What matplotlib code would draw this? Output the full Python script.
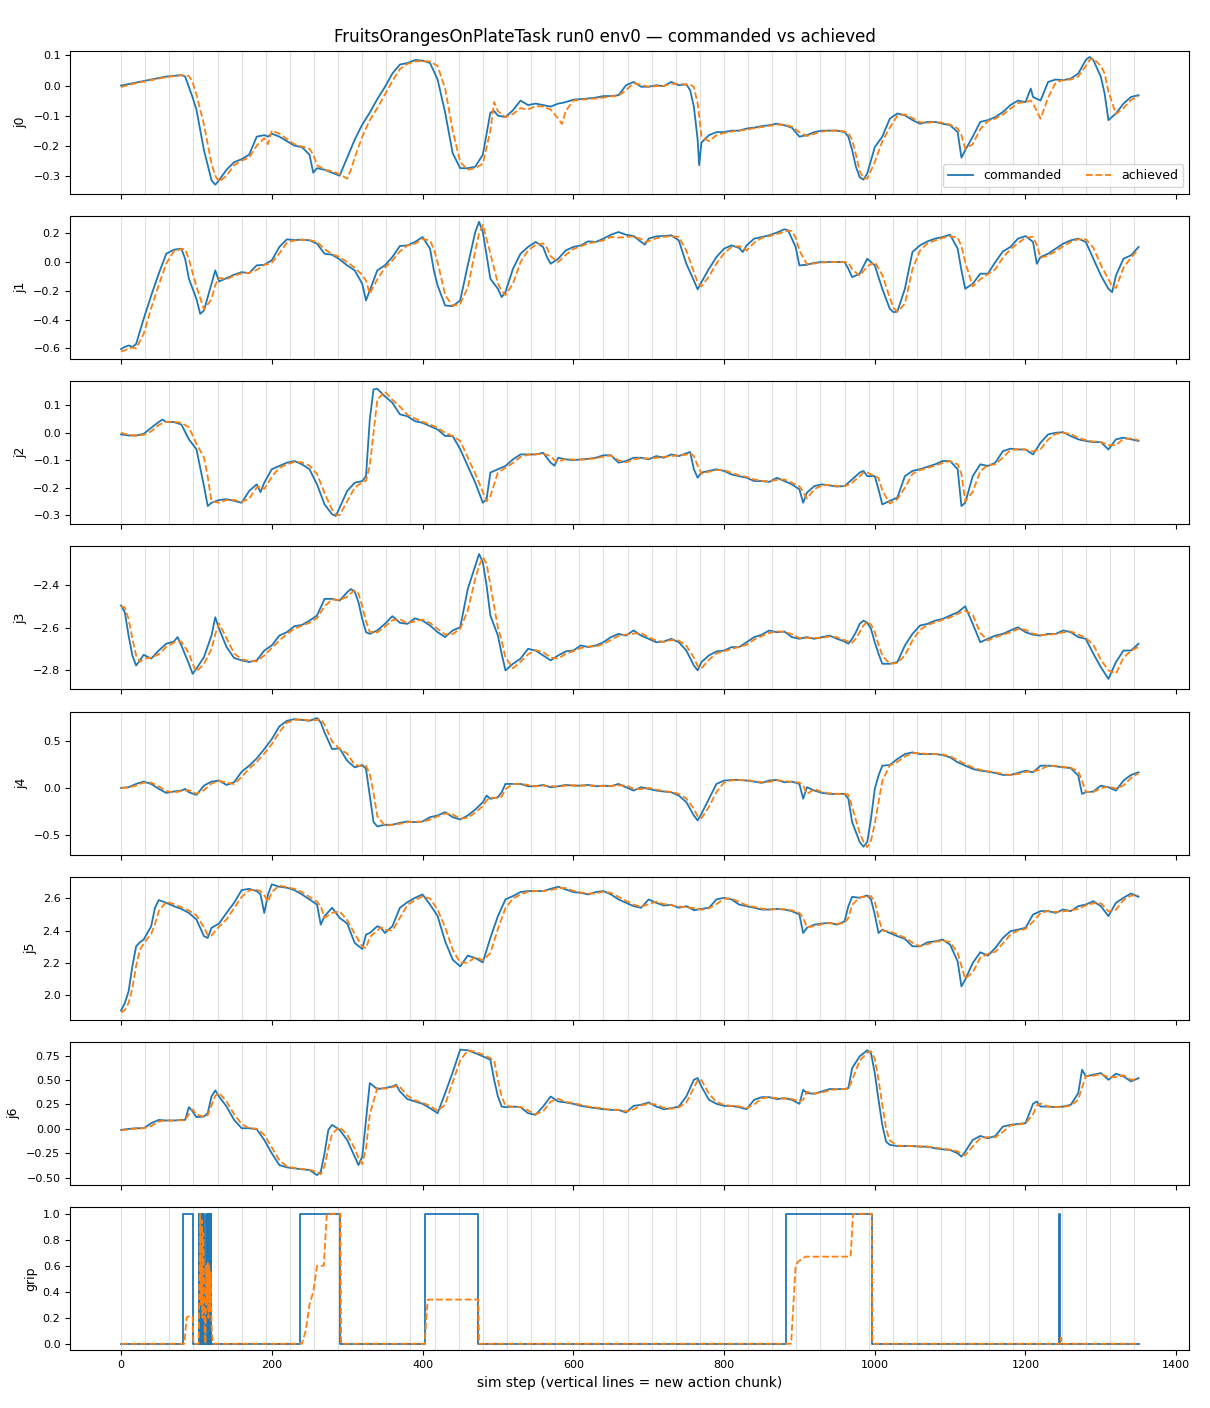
import matplotlib
matplotlib.use("Agg")
import matplotlib.pyplot as plt

TITLE = "FruitsOrangesOnPlateTask run0 env0 \u2014 commanded vs achieved"
XLABEL = "sim step (vertical lines = new action chunk)"
CHUNK = 32
N_STEPS = 1350

# ---- j0 -------------------------------------------------------------
J0_T = [0, 10, 20, 30, 40, 50, 60, 70, 80, 85, 90, 95, 100, 110, 120, 125, 130, 140, 150, 160,
        170, 180, 190, 195, 200, 210, 220, 230, 240, 250, 255, 260, 270, 280, 290, 300, 305, 310,
        320, 330, 340, 350, 360, 370, 380, 390, 400, 410, 420, 430, 440, 450, 460, 470, 480, 490,
        495, 500, 510, 520, 530, 540, 550, 560, 570, 580, 585, 590, 600, 610, 620, 630, 640, 650,
        660, 670, 680, 690, 700, 710, 720, 730, 740, 750, 755, 760, 765, 767, 770, 780, 790, 800,
        810, 820, 830, 840, 850, 860, 870, 880, 890, 900, 910, 920, 930, 940, 950, 960, 965, 970,
        975, 980, 985, 990, 1000, 1010, 1020, 1030, 1040, 1050, 1060, 1070, 1080, 1090, 1100, 1110,
        1115, 1120, 1130, 1140, 1150, 1160, 1170, 1180, 1190, 1200, 1207, 1210, 1220, 1230, 1240,
        1250, 1260, 1270, 1280, 1285, 1290, 1300, 1305, 1310, 1320, 1330, 1340, 1350]
J0_CMD = [0.000, 0.005, 0.010, 0.015, 0.020, 0.025, 0.030, 0.032, 0.035, 0.030, -0.005, -0.040,
          -0.080, -0.215, -0.315, -0.330, -0.315, -0.280, -0.255, -0.245, -0.230, -0.170, -0.165,
          -0.170, -0.160, -0.170, -0.185, -0.200, -0.205, -0.230, -0.290, -0.275, -0.280, -0.290,
          -0.300, -0.240, -0.210, -0.180, -0.130, -0.090, -0.045, -0.005, 0.040, 0.070, 0.075,
          0.085, 0.083, 0.075, 0.020, -0.090, -0.225, -0.275, -0.275, -0.270, -0.230, -0.090,
          -0.085, -0.100, -0.105, -0.082, -0.050, -0.065, -0.060, -0.065, -0.070, -0.060, -0.058,
          -0.055, -0.047, -0.045, -0.043, -0.040, -0.035, -0.035, -0.032, 0.001, 0.012, -0.004,
          -0.004, 0.001, -0.002, 0.012, 0.001, 0.004, -0.015, -0.070, -0.180, -0.265, -0.190,
          -0.165, -0.155, -0.155, -0.150, -0.150, -0.143, -0.140, -0.135, -0.132, -0.127, -0.132,
          -0.140, -0.170, -0.165, -0.155, -0.150, -0.150, -0.150, -0.155, -0.170, -0.215, -0.270,
          -0.305, -0.313, -0.293, -0.205, -0.170, -0.110, -0.093, -0.099, -0.115, -0.127, -0.121,
          -0.121, -0.127, -0.132, -0.155, -0.240, -0.215, -0.170, -0.121, -0.115, -0.105, -0.088,
          -0.065, -0.050, -0.055, -0.010, -0.038, -0.050, 0.012, 0.020, 0.018, 0.023, 0.040, 0.085,
          0.095, 0.085, 0.029, -0.027, -0.115, -0.093, -0.060, -0.038, -0.032]
J0_ACH = [-0.005, 0.002, 0.008, 0.013, 0.018, 0.023, 0.028, 0.031, 0.034, 0.034, 0.032, 0.010,
          -0.030, -0.130, -0.260, -0.300, -0.320, -0.300, -0.265, -0.250, -0.240, -0.200, -0.175,
          -0.195, -0.150, -0.160, -0.178, -0.195, -0.203, -0.210, -0.230, -0.265, -0.280, -0.285,
          -0.295, -0.310, -0.280, -0.240, -0.170, -0.115, -0.075, -0.030, 0.015, 0.055, 0.072,
          0.080, 0.082, 0.080, 0.065, -0.010, -0.150, -0.255, -0.280, -0.275, -0.260, -0.150,
          -0.055, -0.085, -0.105, -0.095, -0.075, -0.080, -0.068, -0.070, -0.080, -0.110, -0.128,
          -0.085, -0.050, -0.047, -0.045, -0.043, -0.040, -0.036, -0.034, -0.015, 0.008, 0.002,
          -0.004, -0.002, -0.001, 0.006, 0.006, 0.003, 0.003, -0.005, -0.060, -0.100, -0.170,
          -0.185, -0.165, -0.158, -0.153, -0.150, -0.147, -0.142, -0.138, -0.134, -0.130, -0.130,
          -0.137, -0.155, -0.168, -0.160, -0.153, -0.150, -0.150, -0.153, -0.158, -0.180, -0.230,
          -0.285, -0.308, -0.310, -0.255, -0.185, -0.140, -0.100, -0.096, -0.108, -0.122, -0.124,
          -0.121, -0.124, -0.130, -0.143, -0.165, -0.210, -0.195, -0.145, -0.118, -0.110, -0.097,
          -0.077, -0.058, -0.055, -0.050, -0.060, -0.110, -0.040, 0.010, 0.018, 0.020, 0.030, 0.065,
          0.085, 0.090, 0.065, 0.040, -0.020, -0.095, -0.075, -0.048, -0.035]

# ---- j1 -------------------------------------------------------------
J1_T = [0, 5, 10, 15, 20, 30, 40, 50, 60, 70, 80, 85, 90, 100, 105, 110, 120, 125, 130, 140,
        150, 160, 170, 180, 190, 200, 210, 220, 230, 240, 250, 260, 270, 280, 290, 300, 310, 320,
        325, 330, 340, 350, 360, 370, 380, 390, 400, 410, 415, 420, 430, 440, 450, 460, 470, 475,
        480, 490, 500, 505, 510, 520, 530, 540, 550, 560, 565, 570, 580, 590, 600, 610, 620, 630,
        640, 650, 660, 670, 680, 690, 695, 700, 710, 720, 730, 740, 750, 760, 765, 770, 780, 790,
        800, 810, 820, 825, 830, 840, 850, 860, 870, 880, 885, 890, 895, 900, 910, 920, 930, 940,
        950, 960, 965, 970, 980, 990, 1000, 1010, 1020, 1025, 1030, 1040, 1050, 1060, 1070, 1080,
        1090, 1100, 1110, 1115, 1120, 1130, 1140, 1150, 1160, 1170, 1180, 1190, 1200, 1210, 1215,
        1220, 1230, 1240, 1250, 1260, 1270, 1280, 1290, 1300, 1310, 1315, 1320, 1330, 1340, 1350]
J1_CMD = [-0.605, -0.590, -0.580, -0.590, -0.570, -0.395, -0.233, -0.081, 0.058, 0.086, 0.093,
          0.023, -0.116, -0.256, -0.360, -0.337, -0.151, -0.058, -0.135, -0.112, -0.088, -0.070,
          -0.077, -0.023, -0.019, 0.012, 0.105, 0.158, 0.153, 0.156, 0.151, 0.128, 0.058, 0.051,
          0.019, -0.023, -0.058, -0.151, -0.267, -0.198, -0.058, -0.023, 0.035, 0.112, 0.116,
          0.140, 0.174, 0.093, -0.058, -0.163, -0.302, -0.307, -0.267, -0.023, 0.209, 0.280, 0.209,
          -0.116, -0.186, -0.244, -0.209, -0.047, 0.058, 0.105, 0.140, 0.105, 0.035, -0.012, 0.023,
          0.081, 0.105, 0.116, 0.144, 0.140, 0.163, 0.190, 0.209, 0.190, 0.181, 0.140, 0.121,
          0.163, 0.179, 0.181, 0.186, 0.151, -0.012, -0.128, -0.190, -0.140, -0.047, 0.035, 0.093,
          0.116, 0.098, 0.070, 0.116, 0.163, 0.174, 0.186, 0.205, 0.228, 0.221, 0.163, 0.105,
          -0.023, -0.019, -0.005, 0.000, 0.000, 0.000, 0.000, -0.047, -0.105, -0.081, 0.023,
          -0.023, -0.186, -0.326, -0.349, -0.344, -0.186, 0.070, 0.116, 0.144, 0.163, 0.174, 0.190,
          0.093, -0.058, -0.186, -0.151, -0.081, -0.081, 0.000, 0.074, 0.105, 0.163, 0.181, 0.140,
          -0.012, 0.035, 0.058, 0.093, 0.128, 0.151, 0.163, 0.140, 0.023, -0.093, -0.186, -0.209,
          -0.093, 0.023, 0.047, 0.105]
J1_ACH = [-0.620, -0.615, -0.600, -0.595, -0.600, -0.500, -0.320, -0.160, -0.010, 0.075, 0.090,
          0.090, 0.020, -0.170, -0.250, -0.330, -0.260, -0.160, -0.110, -0.120, -0.095, -0.078,
          -0.075, -0.055, -0.020, -0.005, 0.060, 0.135, 0.150, 0.155, 0.153, 0.140, 0.090, 0.055,
          0.035, 0.000, -0.040, -0.090, -0.130, -0.220, -0.120, -0.040, 0.010, 0.075, 0.115, 0.128,
          0.160, 0.150, 0.090, 0.000, -0.230, -0.305, -0.290, -0.180, 0.080, 0.200, 0.260, 0.060,
          -0.150, -0.200, -0.230, -0.150, 0.000, 0.080, 0.120, 0.130, 0.100, 0.040, 0.000, 0.050,
          0.090, 0.110, 0.130, 0.140, 0.150, 0.175, 0.170, 0.175, 0.178, 0.160, 0.140, 0.145,
          0.165, 0.175, 0.180, 0.175, 0.080, -0.070, -0.140, -0.170, -0.100, -0.010, 0.060, 0.105,
          0.110, 0.100, 0.080, 0.135, 0.168, 0.180, 0.195, 0.210, 0.220, 0.215, 0.170, 0.080,
          -0.015, -0.010, -0.003, 0.000, 0.000, 0.000, -0.005, -0.050, -0.095, -0.030, 0.000,
          -0.090, -0.250, -0.320, -0.345, -0.290, -0.050, 0.080, 0.130, 0.150, 0.168, 0.180, 0.170,
          0.110, 0.000, -0.170, -0.120, -0.085, -0.050, 0.030, 0.090, 0.130, 0.170, 0.175, 0.120,
          0.030, 0.045, 0.075, 0.110, 0.140, 0.158, 0.158, 0.100, -0.020, -0.120, -0.170, -0.180,
          -0.040, 0.030, 0.090]

# ---- j2 -------------------------------------------------------------
J2_T = [0, 10, 20, 30, 40, 50, 55, 60, 70, 80, 90, 100, 110, 115, 120, 130, 140, 150, 160, 170,
        180, 185, 190, 200, 210, 220, 230, 240, 250, 260, 270, 280, 285, 290, 300, 310, 320, 325,
        330, 335, 340, 350, 360, 370, 380, 390, 400, 410, 420, 430, 440, 450, 460, 470, 480, 485,
        490, 500, 510, 520, 530, 540, 550, 560, 570, 575, 580, 590, 600, 610, 620, 630, 640, 650,
        660, 670, 680, 690, 700, 710, 720, 730, 740, 750, 755, 760, 765, 770, 780, 790, 800, 810,
        820, 830, 840, 850, 860, 870, 880, 890, 900, 905, 910, 920, 930, 940, 950, 960, 970, 980,
        985, 990, 1000, 1005, 1010, 1020, 1030, 1040, 1050, 1060, 1070, 1080, 1090, 1100, 1110,
        1115, 1120, 1130, 1140, 1150, 1160, 1170, 1180, 1190, 1200, 1210, 1220, 1230, 1240, 1250,
        1260, 1270, 1280, 1290, 1300, 1310, 1320, 1330, 1340, 1350]
J2_CMD = [-0.006, -0.010, -0.010, -0.004, 0.018, 0.039, 0.048, 0.039, 0.039, 0.030, -0.024,
          -0.060, -0.194, -0.267, -0.255, -0.245, -0.242, -0.248, -0.255, -0.212, -0.188, -0.216,
          -0.182, -0.133, -0.121, -0.109, -0.103, -0.115, -0.133, -0.188, -0.261, -0.297, -0.303,
          -0.273, -0.212, -0.182, -0.176, -0.158, 0.048, 0.158, 0.160, 0.133, 0.109, 0.067, 0.060,
          0.042, 0.036, 0.024, 0.012, -0.012, -0.012, -0.060, -0.121, -0.182, -0.255, -0.242,
          -0.145, -0.133, -0.121, -0.097, -0.079, -0.079, -0.079, -0.073, -0.109, -0.120, -0.091,
          -0.097, -0.100, -0.097, -0.095, -0.091, -0.082, -0.082, -0.109, -0.103, -0.091, -0.091,
          -0.097, -0.085, -0.091, -0.079, -0.085, -0.075, -0.070, -0.133, -0.164, -0.145, -0.139,
          -0.133, -0.139, -0.152, -0.158, -0.164, -0.176, -0.176, -0.179, -0.164, -0.176, -0.188,
          -0.206, -0.255, -0.218, -0.194, -0.188, -0.192, -0.196, -0.194, -0.170, -0.145, -0.139,
          -0.158, -0.158, -0.206, -0.261, -0.248, -0.236, -0.158, -0.139, -0.133, -0.124, -0.115,
          -0.103, -0.103, -0.133, -0.267, -0.255, -0.158, -0.115, -0.121, -0.109, -0.067, -0.058,
          -0.061, -0.061, -0.079, -0.036, -0.006, 0.000, 0.002, -0.012, -0.024, -0.030, -0.034,
          -0.034, -0.061, -0.024, -0.018, -0.024, -0.030]
J2_ACH = [0.000, -0.008, -0.010, -0.008, 0.005, 0.028, 0.035, 0.040, 0.040, 0.036, 0.020,
          -0.040, -0.090, -0.160, -0.250, -0.255, -0.245, -0.245, -0.252, -0.240, -0.200, -0.195,
          -0.205, -0.160, -0.128, -0.115, -0.106, -0.108, -0.120, -0.150, -0.220, -0.280, -0.298,
          -0.300, -0.250, -0.200, -0.180, -0.175, -0.120, 0.000, 0.120, 0.150, 0.120, 0.095, 0.065,
          0.052, 0.040, 0.030, 0.018, 0.000, -0.012, -0.030, -0.090, -0.150, -0.215, -0.250,
          -0.230, -0.145, -0.128, -0.110, -0.088, -0.080, -0.079, -0.076, -0.085, -0.100, -0.105,
          -0.095, -0.098, -0.098, -0.096, -0.093, -0.087, -0.083, -0.100, -0.108, -0.097, -0.092,
          -0.094, -0.091, -0.088, -0.085, -0.082, -0.080, -0.074, -0.085, -0.120, -0.150, -0.142,
          -0.136, -0.136, -0.146, -0.155, -0.161, -0.170, -0.176, -0.177, -0.172, -0.170, -0.182,
          -0.195, -0.215, -0.240, -0.205, -0.192, -0.190, -0.194, -0.195, -0.182, -0.158, -0.145,
          -0.145, -0.158, -0.165, -0.210, -0.258, -0.242, -0.200, -0.150, -0.136, -0.128, -0.120,
          -0.110, -0.103, -0.115, -0.150, -0.250, -0.215, -0.140, -0.118, -0.115, -0.090, -0.063,
          -0.060, -0.061, -0.068, -0.060, -0.025, -0.004, 0.000, -0.005, -0.018, -0.027, -0.032,
          -0.034, -0.045, -0.045, -0.022, -0.021, -0.027]

# ---- j3 -------------------------------------------------------------
J3_T = [0, 5, 10, 15, 20, 25, 30, 40, 50, 60, 70, 75, 80, 90, 95, 100, 110, 120, 125, 130, 140,
        150, 160, 170, 180, 190, 200, 210, 220, 230, 240, 250, 260, 270, 280, 290, 300, 305, 310,
        315, 320, 325, 330, 340, 350, 360, 370, 380, 390, 400, 410, 420, 430, 440, 450, 460, 470,
        475, 480, 485, 490, 500, 505, 510, 520, 530, 540, 550, 560, 570, 580, 590, 600, 610, 620,
        630, 640, 650, 660, 670, 680, 690, 700, 710, 720, 730, 740, 750, 760, 765, 770, 780, 790,
        800, 810, 820, 830, 840, 850, 860, 870, 880, 890, 900, 910, 920, 930, 940, 950, 960, 965,
        970, 975, 980, 985, 990, 995, 1000, 1005, 1010, 1020, 1030, 1040, 1050, 1060, 1070, 1080,
        1090, 1100, 1110, 1120, 1130, 1140, 1150, 1160, 1170, 1180, 1190, 1200, 1210, 1220, 1230,
        1240, 1250, 1260, 1270, 1280, 1290, 1300, 1310, 1320, 1330, 1340, 1350]
J3_CMD = [-2.496, -2.528, -2.637, -2.730, -2.777, -2.753, -2.727, -2.745, -2.707, -2.675, -2.665,
          -2.644, -2.683, -2.769, -2.816, -2.792, -2.738, -2.637, -2.551, -2.605, -2.691, -2.742,
          -2.753, -2.761, -2.753, -2.707, -2.683, -2.637, -2.621, -2.593, -2.587, -2.567, -2.543,
          -2.465, -2.465, -2.473, -2.434, -2.419, -2.431, -2.481, -2.559, -2.621, -2.629, -2.613,
          -2.582, -2.546, -2.577, -2.582, -2.556, -2.567, -2.590, -2.621, -2.644, -2.613, -2.598,
          -2.419, -2.310, -2.255, -2.294, -2.403, -2.543, -2.637, -2.722, -2.800, -2.769, -2.745,
          -2.699, -2.707, -2.730, -2.753, -2.730, -2.711, -2.707, -2.683, -2.691, -2.683, -2.668,
          -2.644, -2.629, -2.637, -2.613, -2.637, -2.652, -2.668, -2.665, -2.652, -2.668, -2.707,
          -2.777, -2.800, -2.761, -2.730, -2.711, -2.707, -2.691, -2.691, -2.668, -2.644, -2.633,
          -2.613, -2.621, -2.618, -2.644, -2.652, -2.644, -2.652, -2.644, -2.637, -2.652, -2.665,
          -2.675, -2.652, -2.621, -2.582, -2.567, -2.577, -2.605, -2.668, -2.722, -2.769, -2.769,
          -2.761, -2.683, -2.629, -2.590, -2.582, -2.567, -2.559, -2.543, -2.528, -2.500, -2.582,
          -2.668, -2.652, -2.637, -2.629, -2.613, -2.598, -2.621, -2.633, -2.637, -2.629, -2.629,
          -2.613, -2.621, -2.644, -2.652, -2.722, -2.785, -2.840, -2.761, -2.707, -2.707, -2.675]
J3_ACH = [-2.500, -2.505, -2.560, -2.650, -2.730, -2.760, -2.745, -2.740, -2.725, -2.690, -2.670,
          -2.665, -2.665, -2.720, -2.770, -2.805, -2.770, -2.700, -2.630, -2.580, -2.650, -2.720,
          -2.748, -2.757, -2.757, -2.730, -2.695, -2.660, -2.630, -2.605, -2.590, -2.577, -2.555,
          -2.500, -2.468, -2.470, -2.455, -2.438, -2.425, -2.440, -2.500, -2.570, -2.620, -2.622,
          -2.595, -2.565, -2.560, -2.580, -2.570, -2.562, -2.578, -2.605, -2.632, -2.630, -2.605,
          -2.520, -2.370, -2.310, -2.270, -2.300, -2.400, -2.600, -2.660, -2.740, -2.790, -2.760,
          -2.725, -2.705, -2.715, -2.740, -2.745, -2.722, -2.710, -2.695, -2.688, -2.688, -2.676,
          -2.658, -2.638, -2.632, -2.628, -2.625, -2.645, -2.660, -2.667, -2.658, -2.660, -2.685,
          -2.740, -2.780, -2.790, -2.750, -2.720, -2.710, -2.700, -2.690, -2.680, -2.656, -2.640,
          -2.625, -2.617, -2.620, -2.630, -2.648, -2.648, -2.648, -2.648, -2.641, -2.645, -2.658,
          -2.665, -2.670, -2.650, -2.620, -2.590, -2.572, -2.585, -2.620, -2.680, -2.730, -2.770,
          -2.765, -2.730, -2.660, -2.610, -2.588, -2.575, -2.563, -2.552, -2.535, -2.520, -2.540,
          -2.625, -2.660, -2.645, -2.633, -2.622, -2.606, -2.610, -2.628, -2.635, -2.633, -2.629,
          -2.622, -2.617, -2.632, -2.648, -2.680, -2.750, -2.800, -2.815, -2.740, -2.708, -2.690]

# ---- j4 -------------------------------------------------------------
J4_T = [0, 10, 20, 30, 40, 50, 60, 70, 80, 85, 90, 100, 110, 120, 130, 140, 150, 160, 170, 180,
        190, 200, 210, 220, 230, 240, 250, 260, 265, 270, 280, 290, 300, 310, 320, 325, 330, 335,
        340, 350, 360, 370, 380, 390, 400, 410, 420, 430, 440, 450, 460, 470, 480, 485, 490, 500,
        505, 510, 520, 530, 540, 550, 560, 570, 580, 590, 600, 610, 620, 630, 640, 650, 660, 670,
        680, 690, 700, 710, 720, 730, 740, 750, 760, 765, 770, 780, 790, 800, 810, 820, 830, 840,
        850, 860, 870, 880, 890, 900, 905, 910, 920, 930, 940, 950, 960, 965, 970, 980, 985, 990,
        995, 1000, 1005, 1010, 1020, 1030, 1040, 1050, 1060, 1070, 1080, 1090, 1100, 1110, 1120,
        1130, 1140, 1150, 1160, 1170, 1180, 1190, 1200, 1210, 1220, 1230, 1240, 1250, 1260, 1270,
        1275, 1280, 1290, 1300, 1310, 1320, 1330, 1340, 1350]
J4_CMD = [0.004, 0.011, 0.046, 0.071, 0.046, -0.007, -0.050, -0.035, -0.025, -0.007, -0.043,
          -0.071, 0.028, 0.071, 0.082, 0.035, 0.064, 0.177, 0.241, 0.319, 0.418, 0.525, 0.660,
          0.720, 0.738, 0.730, 0.720, 0.750, 0.702, 0.596, 0.418, 0.426, 0.294, 0.223, 0.248,
          0.206, -0.078, -0.362, -0.408, -0.390, -0.390, -0.369, -0.355, -0.362, -0.355, -0.309,
          -0.291, -0.255, -0.309, -0.333, -0.291, -0.227, -0.149, -0.078, -0.113, -0.096, -0.043,
          0.046, 0.046, 0.046, 0.021, 0.021, 0.035, 0.011, 0.021, 0.035, 0.028, 0.028, 0.035, 0.021,
          0.028, 0.021, 0.046, 0.011, -0.025, 0.011, -0.007, -0.025, -0.035, -0.043, -0.078,
          -0.149, -0.291, -0.344, -0.273, -0.113, 0.046, 0.082, 0.089, 0.089, 0.082, 0.071, 0.057,
          0.082, 0.089, 0.064, 0.071, 0.046, -0.113, 0.011, -0.025, -0.050, -0.060, -0.060, -0.060,
          -0.113, -0.362, -0.574, -0.625, -0.574, -0.326, -0.007, 0.135, 0.241, 0.248, 0.312, 0.365,
          0.383, 0.365, 0.365, 0.365, 0.355, 0.330, 0.277, 0.241, 0.206, 0.188, 0.177, 0.163,
          0.142, 0.142, 0.163, 0.188, 0.170, 0.241, 0.241, 0.234, 0.223, 0.216, 0.135, -0.060,
          -0.043, -0.035, 0.028, 0.011, -0.025, 0.082, 0.142, 0.170]
J4_ACH = [0.000, 0.008, 0.030, 0.060, 0.060, 0.020, -0.030, -0.045, -0.030, -0.025, -0.020,
          -0.060, -0.020, 0.050, 0.078, 0.060, 0.045, 0.120, 0.210, 0.280, 0.370, 0.470, 0.600,
          0.700, 0.730, 0.735, 0.725, 0.728, 0.740, 0.680, 0.500, 0.420, 0.370, 0.250, 0.235,
          0.240, 0.150, -0.050, -0.300, -0.400, -0.390, -0.380, -0.362, -0.358, -0.358, -0.335,
          -0.300, -0.270, -0.280, -0.325, -0.315, -0.260, -0.190, -0.130, -0.100, -0.105, -0.090,
          -0.010, 0.046, 0.046, 0.035, 0.021, 0.028, 0.025, 0.015, 0.028, 0.032, 0.028, 0.031,
          0.028, 0.024, 0.025, 0.030, 0.030, -0.005, -0.010, 0.003, -0.015, -0.030, -0.040, -0.060,
          -0.110, -0.220, -0.300, -0.320, -0.200, -0.040, 0.060, 0.085, 0.089, 0.085, 0.076, 0.064,
          0.068, 0.085, 0.077, 0.068, 0.060, 0.030, -0.060, -0.010, -0.040, -0.055, -0.060, -0.060,
          -0.070, -0.200, -0.480, -0.570, -0.630, -0.560, -0.380, -0.150, 0.080, 0.245, 0.280,
          0.340, 0.375, 0.375, 0.365, 0.365, 0.360, 0.342, 0.300, 0.258, 0.222, 0.196, 0.182,
          0.170, 0.152, 0.142, 0.152, 0.175, 0.180, 0.200, 0.241, 0.238, 0.228, 0.220, 0.180,
          0.080, -0.040, -0.040, 0.000, 0.020, -0.005, 0.030, 0.110, 0.160]

# ---- j5 -------------------------------------------------------------
J5_T = [0, 5, 10, 15, 20, 25, 30, 40, 45, 50, 60, 70, 80, 90, 100, 110, 115, 120, 130, 140, 150,
        160, 170, 180, 185, 190, 195, 200, 210, 220, 230, 240, 250, 260, 265, 270, 280, 290, 300,
        310, 320, 325, 330, 340, 345, 350, 360, 370, 380, 390, 400, 410, 420, 430, 440, 450, 460,
        470, 480, 490, 500, 510, 520, 530, 540, 550, 560, 570, 580, 590, 600, 610, 620, 630, 640,
        650, 660, 670, 680, 690, 700, 710, 720, 730, 740, 750, 760, 770, 780, 790, 800, 810, 820,
        830, 840, 850, 860, 870, 880, 890, 900, 905, 910, 920, 930, 940, 950, 960, 965, 970, 980,
        990, 995, 1000, 1005, 1010, 1020, 1030, 1040, 1050, 1060, 1070, 1080, 1090, 1100, 1110,
        1115, 1120, 1130, 1140, 1150, 1160, 1170, 1180, 1190, 1200, 1210, 1220, 1230, 1240, 1250,
        1260, 1270, 1280, 1290, 1300, 1310, 1320, 1330, 1340, 1350]
J5_CMD = [1.902, 1.948, 2.021, 2.177, 2.302, 2.327, 2.344, 2.427, 2.542, 2.590, 2.573, 2.552,
          2.535, 2.510, 2.469, 2.365, 2.354, 2.417, 2.444, 2.510, 2.573, 2.652, 2.660, 2.646, 2.625,
          2.510, 2.625, 2.688, 2.673, 2.667, 2.652, 2.625, 2.594, 2.562, 2.437, 2.490, 2.542, 2.479,
          2.444, 2.323, 2.285, 2.375, 2.385, 2.427, 2.417, 2.385, 2.427, 2.542, 2.577, 2.604, 2.625,
          2.562, 2.490, 2.333, 2.219, 2.177, 2.244, 2.229, 2.202, 2.354, 2.490, 2.594, 2.615, 2.640,
          2.646, 2.646, 2.646, 2.660, 2.673, 2.656, 2.640, 2.635, 2.625, 2.640, 2.646, 2.625, 2.594,
          2.573, 2.552, 2.542, 2.594, 2.573, 2.556, 2.560, 2.542, 2.552, 2.527, 2.535, 2.542, 2.594,
          2.604, 2.594, 2.562, 2.552, 2.542, 2.531, 2.531, 2.535, 2.531, 2.521, 2.500, 2.385, 2.417,
          2.437, 2.444, 2.448, 2.437, 2.458, 2.552, 2.610, 2.604, 2.619, 2.594, 2.500, 2.385, 2.406,
          2.385, 2.365, 2.348, 2.302, 2.302, 2.327, 2.333, 2.344, 2.312, 2.208, 2.052, 2.094, 2.198,
          2.265, 2.244, 2.292, 2.354, 2.396, 2.406, 2.417, 2.500, 2.521, 2.521, 2.510, 2.531, 2.521,
          2.552, 2.562, 2.583, 2.552, 2.490, 2.573, 2.604, 2.631, 2.610]
J5_ACH = [1.890, 1.905, 1.950, 2.040, 2.180, 2.280, 2.320, 2.380, 2.440, 2.520, 2.580, 2.565,
          2.545, 2.525, 2.495, 2.420, 2.370, 2.370, 2.425, 2.470, 2.540, 2.610, 2.650, 2.655, 2.645,
          2.620, 2.580, 2.640, 2.680, 2.670, 2.660, 2.640, 2.610, 2.580, 2.550, 2.480, 2.510, 2.520,
          2.465, 2.380, 2.300, 2.290, 2.360, 2.400, 2.420, 2.405, 2.400, 2.480, 2.560, 2.590, 2.612,
          2.600, 2.530, 2.420, 2.280, 2.200, 2.200, 2.235, 2.215, 2.260, 2.410, 2.540, 2.600, 2.625,
          2.642, 2.646, 2.646, 2.652, 2.665, 2.665, 2.648, 2.638, 2.630, 2.632, 2.642, 2.635, 2.610,
          2.585, 2.562, 2.548, 2.565, 2.580, 2.565, 2.558, 2.550, 2.546, 2.540, 2.530, 2.538, 2.565,
          2.598, 2.600, 2.578, 2.557, 2.547, 2.537, 2.531, 2.533, 2.533, 2.526, 2.510, 2.480, 2.420,
          2.428, 2.440, 2.446, 2.442, 2.447, 2.480, 2.560, 2.607, 2.612, 2.615, 2.580, 2.480, 2.400,
          2.395, 2.375, 2.356, 2.325, 2.302, 2.315, 2.330, 2.338, 2.328, 2.260, 2.180, 2.100, 2.140,
          2.230, 2.255, 2.268, 2.320, 2.375, 2.400, 2.410, 2.455, 2.510, 2.521, 2.516, 2.520, 2.526,
          2.535, 2.557, 2.570, 2.570, 2.520, 2.530, 2.590, 2.618, 2.620]

# ---- j6 -------------------------------------------------------------
J6_T = [0, 10, 20, 30, 40, 50, 60, 70, 80, 85, 90, 95, 100, 110, 115, 120, 125, 130, 140, 150,
        160, 170, 180, 190, 200, 210, 220, 230, 240, 250, 260, 265, 270, 275, 280, 290, 300, 310,
        315, 320, 325, 330, 340, 350, 360, 365, 370, 380, 390, 400, 410, 420, 430, 440, 450, 460,
        470, 480, 490, 495, 500, 505, 510, 520, 530, 540, 550, 560, 570, 580, 590, 600, 610, 620,
        630, 640, 650, 660, 670, 680, 690, 700, 710, 720, 730, 740, 750, 760, 765, 770, 780, 790,
        800, 810, 820, 830, 840, 850, 860, 870, 880, 890, 900, 905, 910, 920, 930, 940, 950, 960,
        965, 970, 980, 990, 995, 1000, 1005, 1010, 1015, 1020, 1030, 1040, 1050, 1060, 1070, 1080,
        1090, 1100, 1110, 1115, 1120, 1130, 1140, 1150, 1160, 1170, 1180, 1190, 1200, 1210, 1215,
        1220, 1230, 1240, 1250, 1260, 1270, 1275, 1280, 1290, 1300, 1310, 1320, 1330, 1340, 1350]
J6_CMD = [-0.010, 0.000, 0.007, 0.007, 0.058, 0.092, 0.086, 0.086, 0.092, 0.092, 0.223, 0.178,
          0.120, 0.127, 0.161, 0.332, 0.394, 0.332, 0.229, 0.092, 0.007, 0.007, -0.003, -0.113,
          -0.250, -0.370, -0.394, -0.404, -0.414, -0.421, -0.473, -0.438, -0.250, -0.010, 0.041,
          -0.010, -0.113, -0.284, -0.370, -0.284, 0.092, 0.469, 0.408, 0.418, 0.435, 0.452, 0.384,
          0.305, 0.281, 0.257, 0.212, 0.161, 0.366, 0.579, 0.812, 0.805, 0.777, 0.743, 0.709, 0.503,
          0.332, 0.229, 0.223, 0.229, 0.223, 0.161, 0.144, 0.229, 0.332, 0.281, 0.271, 0.257, 0.236,
          0.223, 0.212, 0.202, 0.195, 0.195, 0.168, 0.236, 0.247, 0.271, 0.229, 0.202, 0.212, 0.229,
          0.332, 0.503, 0.521, 0.435, 0.298, 0.257, 0.236, 0.236, 0.223, 0.202, 0.298, 0.325, 0.325,
          0.305, 0.315, 0.298, 0.257, 0.401, 0.366, 0.360, 0.384, 0.408, 0.408, 0.408, 0.418, 0.623,
          0.743, 0.805, 0.777, 0.572, 0.298, 0.041, -0.130, -0.164, -0.175, -0.175, -0.175, -0.182,
          -0.182, -0.199, -0.209, -0.216, -0.250, -0.284, -0.233, -0.113, -0.072, -0.096, -0.072,
          0.024, 0.041, 0.051, 0.058, 0.257, 0.281, 0.229, 0.229, 0.223, 0.229, 0.247, 0.366, 0.606,
          0.538, 0.555, 0.572, 0.503, 0.565, 0.538, 0.486, 0.521]
J6_ACH = [-0.015, -0.005, 0.003, 0.007, 0.030, 0.075, 0.088, 0.086, 0.089, 0.092, 0.150, 0.200,
          0.150, 0.122, 0.140, 0.240, 0.340, 0.370, 0.280, 0.150, 0.050, 0.007, 0.002, -0.060,
          -0.190, -0.320, -0.385, -0.400, -0.410, -0.418, -0.440, -0.465, -0.380, -0.200, -0.050,
          0.020, -0.060, -0.200, -0.300, -0.360, -0.200, 0.150, 0.420, 0.412, 0.428, 0.440, 0.430,
          0.340, 0.292, 0.268, 0.235, 0.185, 0.250, 0.480, 0.700, 0.805, 0.790, 0.760, 0.725, 0.700,
          0.500, 0.330, 0.240, 0.225, 0.226, 0.190, 0.150, 0.180, 0.280, 0.310, 0.276, 0.264, 0.246,
          0.229, 0.218, 0.207, 0.198, 0.195, 0.180, 0.200, 0.240, 0.258, 0.250, 0.215, 0.207, 0.220,
          0.270, 0.420, 0.500, 0.500, 0.360, 0.275, 0.245, 0.236, 0.230, 0.212, 0.250, 0.312, 0.325,
          0.315, 0.310, 0.307, 0.280, 0.300, 0.380, 0.363, 0.372, 0.396, 0.408, 0.408, 0.410, 0.500,
          0.700, 0.780, 0.795, 0.720, 0.500, 0.250, 0.000, -0.120, -0.170, -0.175, -0.175, -0.178,
          -0.182, -0.190, -0.204, -0.212, -0.230, -0.260, -0.270, -0.180, -0.095, -0.085, -0.085,
          -0.030, 0.035, 0.046, 0.055, 0.150, 0.240, 0.260, 0.229, 0.226, 0.226, 0.238, 0.300, 0.420,
          0.540, 0.545, 0.562, 0.530, 0.530, 0.550, 0.505, 0.505]

# ---- gripper --------------------------------------------------------
GRIP_CMD_T = [0, 82, 96, 103, 104, 105, 106, 107, 108, 109, 110, 113, 114, 115, 116, 117, 118,
              119, 120, 237, 291, 403, 474, 882, 996, 1245, 1246, 1350]
GRIP_CMD = [0, 1, 0, 1, 0, 1, 0, 1, 0, 1, 0, 1, 0, 1, 0, 1, 0, 1, 0, 1, 0, 1, 0, 1, 0, 1, 0, 0]
GRIP_ACH_T = [0, 84, 87, 89, 95, 96, 103, 104, 105, 106, 107, 108, 109, 110, 111, 112, 113, 114,
              115, 116, 117, 118, 119, 120, 121, 122, 240, 245, 250, 255, 260, 269, 273, 291, 292,
              403, 405, 407, 474, 475, 889, 891, 895, 898, 908, 968, 971, 972, 996, 997, 1246,
              1247, 1248, 1350]
GRIP_ACH = [0, 0, 0.20, 0.21, 0.21, 0, 0, 0.5, 1.0, 0.3, 0.95, 0.2, 0.85, 0.4, 0.1, 0, 0.6, 0.3,
            0.62, 0.2, 0.6, 0.25, 0.55, 0.15, 0.05, 0, 0, 0.1, 0.3, 0.4, 0.6, 0.6, 1.0, 1.0, 0,
            0, 0.2, 0.34, 0.34, 0, 0, 0.2, 0.6, 0.63, 0.67, 0.67, 0.98, 1.0, 1.0, 0, 0, 0.05, 0, 0]

JOINTS = [
    ("j0", J0_T, J0_CMD, J0_ACH),
    ("j1", J1_T, J1_CMD, J1_ACH),
    ("j2", J2_T, J2_CMD, J2_ACH),
    ("j3", J3_T, J3_CMD, J3_ACH),
    ("j4", J4_T, J4_CMD, J4_ACH),
    ("j5", J5_T, J5_CMD, J5_ACH),
    ("j6", J6_T, J6_CMD, J6_ACH),
]
# y ranges as they come out on the original (noise peaks widen them a bit)
YLIMS = [(-0.36, 0.116), (-0.674, 0.321), (-0.333, 0.188), (-2.889, -2.219),
         (-0.709, 0.819), (1.844, 2.735), (-0.575, 0.89)]

CMD_COLOR = "#1f77b4"
ACH_COLOR = "#ff7f0e"

fig, axes = plt.subplots(8, 1, figsize=(12.1, 14.08), dpi=100, sharex=True)
fig.subplots_adjust(left=0.058, right=0.983, top=0.964, bottom=0.041, hspace=0.155)

for ax, (name, t, cmd, ach), ylim in zip(axes[:7], JOINTS, YLIMS):
    ax.plot(t, cmd, color=CMD_COLOR, lw=1.3, label="commanded")
    ax.plot(t, ach, color=ACH_COLOR, lw=1.3, ls="--", label="achieved")
    ax.set_ylabel(name, fontsize=9)
    ax.set_ylim(*ylim)

ax = axes[7]
ax.plot(GRIP_CMD_T, GRIP_CMD, color=CMD_COLOR, lw=1.3, drawstyle="steps-post")
ax.plot(GRIP_ACH_T, GRIP_ACH, color=ACH_COLOR, lw=1.3, ls="--")
ax.set_ylabel("grip", fontsize=9)
ax.set_yticks([0.0, 0.2, 0.4, 0.6, 0.8, 1.0])

for ax in axes:
    for s in range(0, N_STEPS, CHUNK):
        ax.axvline(s, color="0.5", lw=0.8, alpha=0.25, zorder=0)
    ax.tick_params(labelsize=8)

axes[0].legend(loc="lower right", ncol=2, fontsize=9)
axes[-1].set_xticks(range(0, 1401, 200))
axes[-1].set_xlabel(XLABEL, fontsize=10)
fig.suptitle(TITLE, fontsize=12, y=0.980)

fig.savefig("out.png", dpi=100)
